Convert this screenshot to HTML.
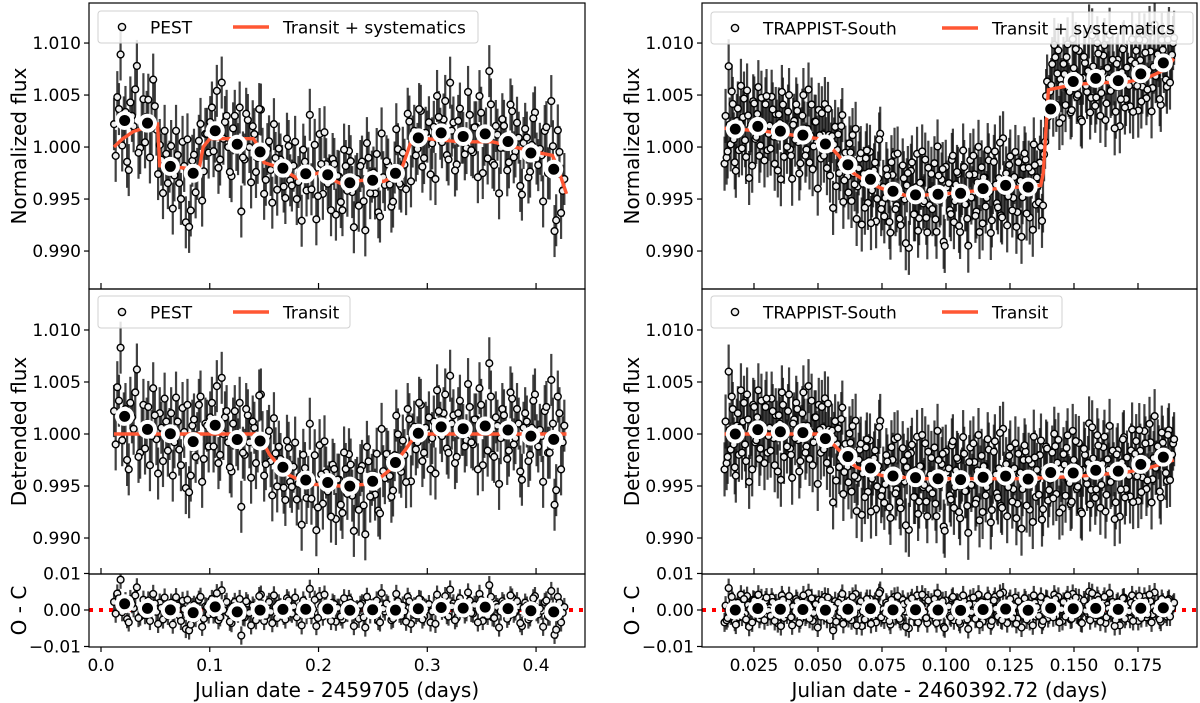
<!DOCTYPE html>
<html><head><meta charset="utf-8">
<style>
html,body{margin:0;padding:0;background:#fff;}
svg{display:block;font-family:"DejaVu Sans","Liberation Sans",sans-serif;}
</style></head>
<body>
<svg id="chart" width="1200" height="703" viewBox="0 0 1200 703" xmlns="http://www.w3.org/2000/svg"></svg>
<script>
// ---------- DATA ----------
const pestStart = 0.012, pestStep = 0.003;
const pestResid = [2.2,4.5,8.3,1.5,-2.5,3.0,0.5,6.2,-1.8,2.8,1.0,-3.0,4.4,-0.5,2.0,-2.6,1.2,0.0,-4.0,3.5,
-1.5,2.5,-5.2,-5.6,0.8,-2.2,2.8,-4.6,1.0,-1.2,3.0,0.2,-2.8,5.4,1.6,-0.8,-3.6,2.2,-1.0,-7.0,
-2.0,1.8,-4.2,0.6,-1.2,4.2,-3.0,1.4,-0.5,4.0,-2.2,0.8,-1.6,3.2,-0.6,1.0,-2.0,0.4,2.6,-1.4,
5.8,0.2,-4.4,3.8,-1.8,1.2,-0.2,2.0,-3.2,0.6,-2.6,1.6,3.0,-1.0,0.0,-2.4,1.8,-4.8,2.2,0.4,
-1.2,-3.0,4.6,-0.4,1.4,-2.8,0.8,2.4,-1.6,-0.4,3.6,-3.8,1.0,-0.8,2.8,-1.8,0.2,-3.4,1.2,4.2,
0.6,2.0,-1.4,5.6,1.8,-2.2,3.2,0.4,-0.6,2.6,-1.0,1.4,4.4,-3.0,0.8,6.8,-2.0,1.6,-4.8,2.4,
0.2,-1.6,3.4,-0.4,1.0,-4.4,2.0,-2.6,0.6,3.8,-1.2,-0.2,2.2,-1.8,5.2,-6.8,3.6,-3.4,0.8];
const pestResid2 = [-1.0,3.2,-0.6,2.4,-3.4,1.6,4.0,-2.2,0.4,-1.4,2.6,-0.2,1.8,-3.8,0.6,3.4,-1.6,2.0,-0.8,1.2,
-3.0,0.2,2.8,-4.0,1.4,-0.4,3.6,-2.4,0.8,1.6,-1.2,4.6,-2.0,0.0,2.2,-3.2,1.0,-0.6,3.0,-1.8,
2.4,-0.8,1.2,-2.8,3.8,0.4,-1.6,2.2,-3.6,0.8,1.8,-0.2,-2.6,2.6,-1.0,3.4,-0.4,-4.2,1.4,0.2,
-1.4,2.8,-2.2,1.0,4.2,-0.6,-3.0,1.6,0.6,-1.8,3.2,-0.8,2.0,-4.4,0.2,1.4,-2.0,3.6,-1.2,0.8,
2.6,-3.4,0.4,1.8,-0.6,-2.4,4.4,-1.0,1.2,-3.2,2.4,0.0,-1.4,3.0,-2.6,0.6,1.6,-0.4,-3.8,2.2,
-0.2,3.8,-1.8,1.0,-2.8,2.0,0.4,-1.2,4.8,-0.8,1.4,-3.4,2.8,0.2,-1.6,3.6,-2.2,0.8,-0.4,1.8,
-2.4,4.0,-1.0,2.4,-3.6,0.6,1.2,-2.0,3.2,-0.6,0.4,-4.6,2.6,-1.8,1.0,-5.4,2.0,-0.8];
const pestModelT = [0.012,0.02,0.03,0.045,0.052,0.054,0.075,0.09,0.094,0.1,0.14,0.145,0.15,0.165,0.18,0.2,0.22,0.24,0.26,0.275,0.285,0.3,0.33,0.36,0.38,0.4,0.415,0.42,0.428];
const pestModelF = [1.0000,1.0008,1.0015,1.0020,1.0022,0.9982,0.9980,0.9978,1.0000,1.0008,1.0008,1.0000,0.9985,0.9980,0.9970,0.9975,0.9965,0.9968,0.9967,0.9975,1.0005,1.0008,1.0005,1.0005,1.0000,0.9995,0.9992,0.9980,0.9955];
const pestTransitT = [0.012,0.145,0.155,0.17,0.19,0.22,0.25,0.265,0.28,0.29,0.428];
const pestTransitF = [1.0,1.0,0.998,0.9962,0.9952,0.995,0.9952,0.9965,0.9985,1.0,1.0];

const trapStart = 0.0135, trapStep = 0.0008;
const trapResid = [-3.4,-2.8,6.0,-1.5,2.4,-3.2,0.8,-2.0,4.2,1.2,-1.0,3.8,-4.6,0.5,2.8,-0.8,1.6,-2.4,3.2,0.2,
2.6,-1.8,0.6,3.4,-0.4,1.8,-3.6,1.0,4.0,-2.2,0.4,2.2,-1.4,-4.2,1.4,3.0,-0.6,-2.6,2.0,0.8,
-1.2,4.6,0.2,-3.0,1.6,-0.4,2.8,-1.8,0.6,3.6,-2.4,1.0,-0.2,-5.6,2.4,0.4,-1.6,3.2,-3.8,1.2,
-0.8,2.6,-2.8,0.0,4.4,-1.0,1.8,-4.4,0.6,2.2,-2.0,3.0,-0.6,1.4,-3.4,0.8,5.2,-1.4,-2.6,2.0,
0.4,-4.0,1.6,3.6,-1.2,0.2,-3.0,2.8,-0.4,1.0,-5.0,2.4,0.6,-1.8,4.0,-2.2,1.2,-0.8,3.4,-3.6,
-1.0,2.0,0.2,-2.4,4.6,-0.6,1.4,-4.6,2.6,0.0,-1.6,3.2,-2.8,0.8,1.8,-3.8,0.4,2.4,-1.2,-5.2,
3.0,-0.2,1.6,-2.0,4.2,0.6,-3.2,1.2,-0.8,2.8,-4.2,0.2,3.6,-1.4,1.0,-2.6,4.8,-0.4,-3.6,2.2,
0.8,-1.0,3.4,-2.4,0.4,-4.8,1.8,2.6,-0.6,-3.0,1.4,4.0,-1.8,0.0,2.2,-4.0,0.6,3.0,-2.2,-0.2,
2.4,4.2,-1.6,3.6,0.8,-3.0,1.2,2.8,-0.4,-2.6,4.4,1.0,-1.2,3.2,-3.4,0.6,2.0,-0.8,5.0,-1.4,
1.6,-2.2,3.8,0.2,-1.0,2.6,-3.6,1.4,4.6,-0.6,0.4,-2.8,2.2,-4.2,1.0,3.4,-1.6,0.2,-2.4,4.0,
-0.4,2.8,-3.0,1.8,-0.8,3.6,-2.0,0.6,2.4,-1.2,4.8,-0.2,1.2,-3.2,2.0,0.8,-1.8,3.0,0.4,1.6];
const trapResid2 = [1.2,-2.2,0.4,3.6,-1.0,-4.0,2.0,0.6,-1.8,3.0,-2.6,1.4,0.2,-3.4,2.6,-0.6,4.2,-1.4,0.8,-2.8,
3.4,-0.2,-1.6,2.2,-3.0,0.6,1.8,-4.4,2.8,0.0,-1.2,3.8,-2.0,1.0,-0.4,2.4,-3.6,0.2,4.0,-1.8,
0.8,-2.4,3.2,-0.8,1.6,-4.8,0.4,2.6,-1.4,-0.2,3.4,-2.8,1.2,0.6,-3.2,2.0,-0.6,4.4,-1.6,0.0,
-2.2,1.8,3.6,-1.0,-4.2,0.8,2.4,-0.4,-2.6,3.0,1.0,-3.8,0.4,2.2,-1.2,4.6,-2.0,0.2,-0.8,1.4,
-3.0,2.8,0.6,-1.6,3.8,-2.4,0.0,1.6,-4.6,2.2,-0.2,3.2,-1.8,0.8,-3.4,1.2,4.2,-0.6,-2.2,2.6,
0.4,-1.4,3.0,-3.6,1.8,-0.4,2.4,-5.0,0.6,1.0,-2.0,3.6,-0.8,2.0,-3.2,0.2,4.0,-1.2,-2.6,1.6,
-0.6,3.4,-2.4,0.8,-4.0,2.2,1.2,-1.6,3.8,-0.2,-3.0,2.6,0.4,-1.8,4.4,-2.8,0.0,1.4,-0.8,3.0,
-2.2,1.0,-3.8,2.4,0.6,-1.0,3.2,-2.6,1.8,-0.4,-4.2,2.0,0.8,-1.6,3.6,-3.0,0.2,2.8,-1.2,0.4,
-2.0,3.0,1.4,-3.4,0.2,2.2,-1.8,4.0,-0.6,-2.4,1.6,3.4,-1.0,0.6,-3.6,2.6,-0.2,1.2,-2.8,4.6,
0.0,-1.4,2.8,-3.2,1.0,3.6,-2.0,0.4,-0.8,2.2,-4.4,1.8,0.6,-1.6,3.2,-2.4,1.4,-0.4,2.0,-3.0,
1.6,-0.6,3.8,-2.2,0.2,2.4,-1.2,4.2,-3.4,0.8,-0.2,1.8,-2.6,3.0,0.4,-1.0,2.6,-1.8,0.6,2.0];
const trapModelT = [0.0135,0.03,0.05,0.053,0.058,0.062,0.068,0.075,0.085,0.1,0.12,0.137,0.138,0.14,0.15,0.16,0.17,0.18,0.186,0.189];
const trapModelF = [1.0018,1.0015,1.0008,1.0005,0.9992,0.9978,0.9968,0.9960,0.9953,0.9955,0.9960,0.9963,0.9975,1.0055,1.0060,1.0062,1.0062,1.0068,1.0075,1.0085];
const trapTransitT = [0.0135,0.052,0.058,0.065,0.075,0.09,0.13,0.15,0.17,0.18,0.189];
const trapTransitF = [1.0,1.0,0.9985,0.9968,0.9960,0.9957,0.9957,0.9959,0.9963,0.9968,0.9975];

const yTicksFlux = [0.990,0.995,1.000,1.005,1.010];
const yTickLabelsFlux = ["0.990","0.995","1.000","1.005","1.010"];
const yTicksOC = [-0.01,0,0.01];
const yTickLabelsOC = ["\u22120.01","0.00","0.01"];
const xTicksL = [0.0,0.1,0.2,0.3,0.4];
const xTickLabelsL = ["0.0","0.1","0.2","0.3","0.4"];
const xTicksR = [0.025,0.05,0.075,0.1,0.125,0.15,0.175];
const xTickLabelsR = ["0.025","0.050","0.075","0.100","0.125","0.150","0.175"];

// ---------- RENDER ----------
const NS = "http://www.w3.org/2000/svg";
const svg = document.getElementById('chart');
function mk(tag, attrs, parent){const e=document.createElementNS(NS,tag);for(const k in attrs)e.setAttribute(k,attrs[k]);(parent||svg).appendChild(e);return e;}
function interp(T,F,t){if(t<=T[0])return F[0];for(let i=1;i<T.length;i++){if(t<=T[i]){const f=(t-T[i-1])/(T[i]-T[i-1]);return F[i-1]+f*(F[i]-F[i-1]);}}return F[F.length-1];}
const RED = "#ff5733";
const TF_SIZE = 17, TITLE_SIZE = 20;
function scale(d0,d1,r0,r1){return v=>r0+(v-d0)/(d1-d0)*(r1-r0);}

function drawPanel(name,box,xs,ys,times,vals,errs,modelT,modelF,nb,opts){
  const g = mk('g',{});
  
  
  const clipId = name+'-clip';
  const cp = mk('clipPath',{id:clipId},g);
  mk('rect',{x:box.x0,y:box.y0,width:box.x1-box.x0,height:box.y1-box.y0},cp);
  const plot = mk('g',{'clip-path':'url(#'+clipId+')'},g);
  if(opts.zeroLine){
    const zl = mk('line',{x1:box.x0,x2:box.x1,y1:ys(0),y2:ys(0),stroke:'#ff0000','stroke-width':4,'stroke-dasharray':'4,6'},plot);
    
    
  }
  const eg = mk('g',{},plot);
  
  
  for(let i=0;i<times.length;i++){
    const x=xs(times[i]);
    mk('line',{x1:x,x2:x,y1:ys(vals[i]-errs),y2:ys(vals[i]+errs),stroke:'#111','stroke-opacity':0.8,'stroke-width':2.2},eg);
  }
  const pg = mk('g',{},plot);
  
  
  for(let i=0;i<times.length;i++){
    const c = mk('circle',{cx:xs(times[i]),cy:ys(vals[i]),r:3.4,fill:'#eee',stroke:'#000','stroke-width':1.4},pg);
    
    
  }
  if(modelT){
    let d='';
    for(let i=0;i<modelT.length;i++) d+=(i?'L':'M')+xs(modelT[i]).toFixed(1)+','+ys(modelF[i]).toFixed(1);
    const p = mk('path',{d:d,fill:'none',stroke:RED,'stroke-width':3.4},plot);
    
    
  }
  let tmin=Infinity,tmax=-Infinity; times.forEach(t=>{tmin=Math.min(tmin,t);tmax=Math.max(tmax,t);});
  const w=(tmax-tmin)/nb;
  const bg = mk('g',{},plot);
  
  
  for(let b=0;b<nb;b++){
    let st=0,sv=0,n=0;
    for(let i=0;i<times.length;i++){const k=Math.min(nb-1,Math.floor((times[i]-tmin)/w));if(k===b){st+=times[i];sv+=vals[i];n++;}}
    if(!n)continue;
    const c = mk('circle',{cx:xs(st/n),cy:ys(sv/n),r:7.5,fill:'#000',stroke:'#fff','stroke-width':4},bg);
    
    
  }
  const fr = mk('rect',{x:box.x0,y:box.y0,width:box.x1-box.x0,height:box.y1-box.y0,fill:'none',stroke:'#000','stroke-width':1.2},g);
  
  
  opts.yT.forEach((v,i)=>{
    const y=ys(v);
    mk('line',{x1:box.x0-5,x2:box.x0,y1:y,y2:y,stroke:'#000','stroke-width':1.2},g);
    const t = mk('text',{x:box.x0-8,y:y+6,'text-anchor':'end','font-size':TF_SIZE,fill:'#000'},g);
    t.textContent = opts.yL[i];
    
    
  });
  opts.xT.forEach((v,i)=>{
    const x=xs(v);
    if(opts.xLabels){
      mk('line',{x1:x,x2:x,y1:box.y1,y2:box.y1+5,stroke:'#000','stroke-width':1.2},g);
      const t = mk('text',{x:x,y:box.y1+24,'text-anchor':'middle','font-size':TF_SIZE,fill:'#000'},g);
      t.textContent = opts.xL[i];
      
      
    } else {
      mk('line',{x1:x,x2:x,y1:box.y1,y2:box.y1-6,stroke:'#000','stroke-width':1.2},g);
    }
  });
  const cy=(box.y0+box.y1)/2, lx=opts.ylabX;
  const yl = mk('text',{x:lx,y:cy,'text-anchor':'middle','font-size':TITLE_SIZE,fill:'#000',transform:'rotate(-90 '+lx+' '+cy+')'},g);
  yl.textContent = opts.ylab;
  
  
  if(opts.legend){
    const L=opts.legend;
    const lg = mk('g',{},g);
    
    
    mk('rect',{x:L.x,y:L.y,width:L.w,height:32,rx:3,fill:'#fff','fill-opacity':0.85,stroke:'#d0d0d0'},lg);
    mk('circle',{cx:L.x+24,cy:L.y+16,r:3.6,fill:'#eee',stroke:'#000','stroke-width':1.4},lg);
    const t1=mk('text',{x:L.x+52,y:L.y+22.5,'font-size':17,fill:'#000'},lg);
    t1.textContent=L.name;
    
    
    mk('line',{x1:L.lx,x2:L.lx+36,y1:L.y+16,y2:L.y+16,stroke:RED,'stroke-width':3.4},lg);
    const t2=mk('text',{x:L.lx+50,y:L.y+22.5,'font-size':17,fill:'#000'},lg);
    t2.textContent=L.model;
    
    
  }
}

function build(side){
  const isL = side==='L';
  const r1 = isL?pestResid:trapResid, r2 = isL?pestResid2:trapResid2;
  const t0 = isL?pestStart:trapStart, dt = isL?pestStep:trapStep;
  const MT = isL?pestModelT:trapModelT, MF = isL?pestModelF:trapModelF;
  const TT = isL?pestTransitT:trapTransitT, TF = isL?pestTransitF:trapTransitF;
  const times = r1.map((r,i)=>t0+i*dt).concat(r2.map((r,i)=>t0+dt/2+i*dt));
  const oc = r1.concat(r2).map(r=>r/1000);
  const raw = times.map((t,i)=>interp(MT,MF,t)+oc[i]);
  const det = times.map((t,i)=>interp(TT,TF,t)+oc[i]);
  const bx = isL?{x0:89,x1:585}:{x0:702,x1:1197};
  const xs = isL?scale(-0.01103,0.4450,89,585):scale(0.00469,0.19805,702,1197);
  const ylabX = isL?26:639;
  const err = isL?0.0025:0.0026;
  const nb = 20;
  const name = isL?'PEST':'TRAPPIST-South';
  const legX = bx.x0+9, legLX = isL?bx.x0+144:bx.x0+240;
  drawPanel(side+'-top-panel',{x0:bx.x0,x1:bx.x1,y0:3,y1:289},xs,scale(0.98635,1.01385,289,3),times,raw,err,MT,MF,nb,
    {yT:yTicksFlux,yL:yTickLabelsFlux,xT:isL?xTicksL:xTicksR,xLabels:false,ylab:'Normalized flux',ylabX:ylabX,
     legend:{x:legX,y:isL?11:12,w:isL?380:482,name:name,lx:legLX,model:'Transit + systematics'}});
  drawPanel(side+'-middle-panel',{x0:bx.x0,x1:bx.x1,y0:289,y1:574},xs,scale(0.98654,1.01394,574,289),times,det,err,TT,TF,nb,
    {yT:yTicksFlux,yL:yTickLabelsFlux,xT:isL?xTicksL:xTicksR,xLabels:false,ylab:'Detrended flux',ylabX:ylabX,
     legend:{x:legX,y:296,w:isL?252:351,name:name,lx:legLX,model:'Transit'}});
  drawPanel(side+'-oc-panel',{x0:bx.x0,x1:bx.x1,y0:574,y1:647},xs,scale(-0.01014,0.00986,647,574),times,oc,err,null,null,nb,
    {yT:yTicksOC,yL:yTickLabelsOC,xT:isL?xTicksL:xTicksR,xL:isL?xTickLabelsL:xTickLabelsR,xLabels:true,ylab:'O - C',ylabX:ylabX,zeroLine:true});
  const xl = mk('text',{x:(bx.x0+bx.x1)/2,y:697,'text-anchor':'middle','font-size':TITLE_SIZE,fill:'#000'});
  xl.textContent = isL?'Julian date - 2459705 (days)':'Julian date - 2460392.72 (days)';
  
  
}
build('L');
build('R');
</script>
</body></html>
